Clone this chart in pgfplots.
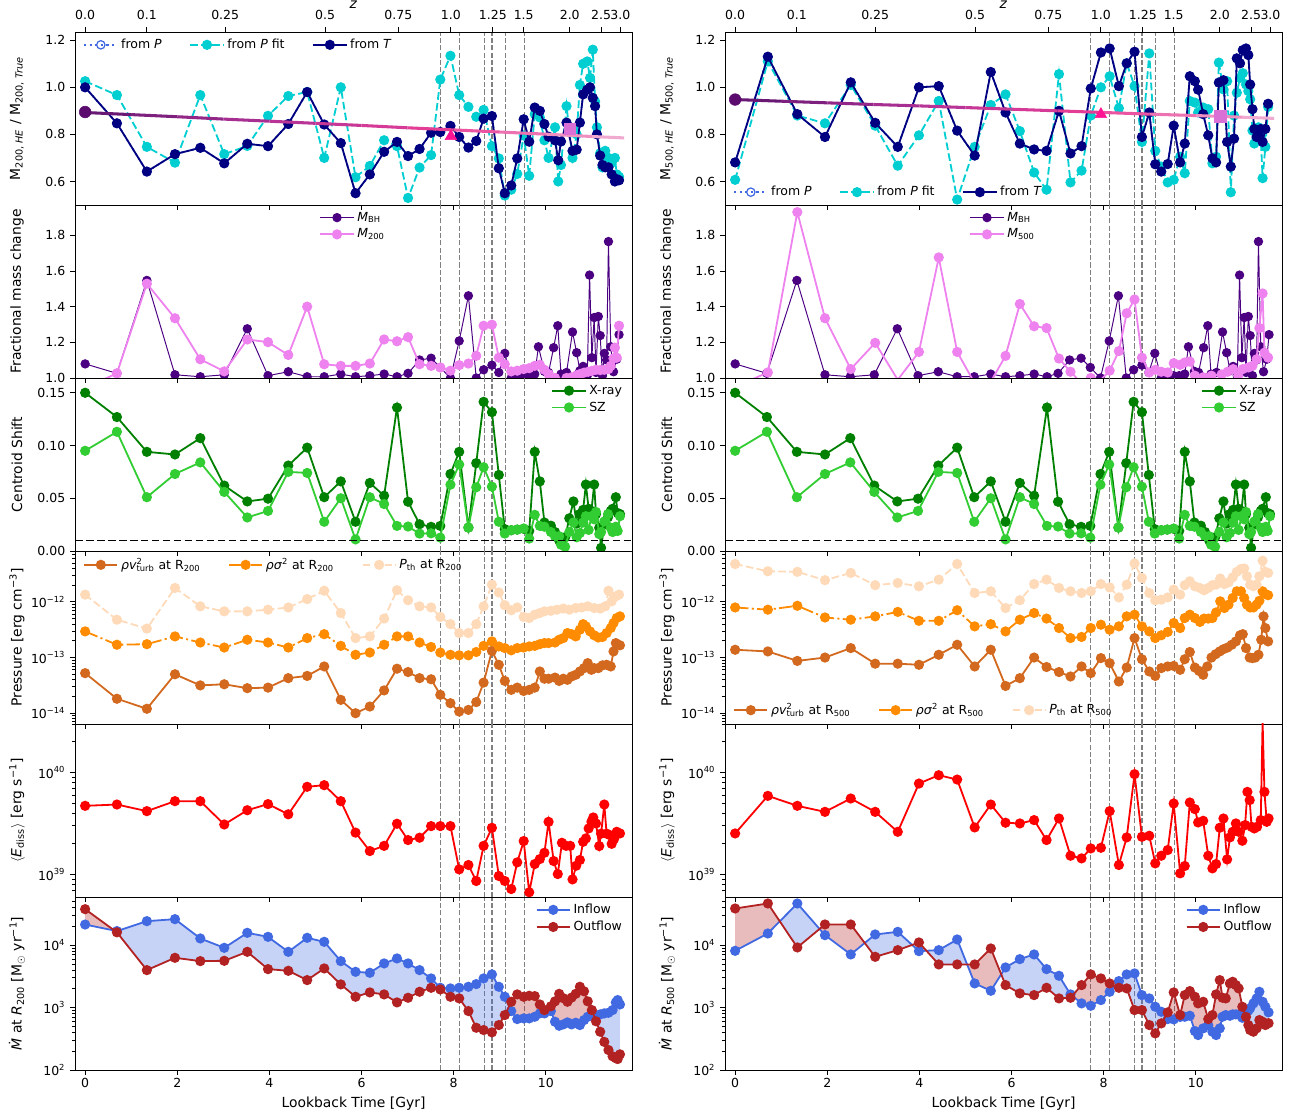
\documentclass[border=0pt]{standalone}
\usepackage{fontspec}
\setmainfont{DejaVu Sans}
\usepackage{pgfplots}
\usepackage{pgfplotstable}
\pgfplotsset{compat=1.18}
\usepgfplotslibrary{fillbetween}

\definecolor{navyc}{HTML}{000080}
\definecolor{dturq}{HTML}{00CED1}
\definecolor{rblue}{HTML}{4169E1}
\definecolor{indig}{HTML}{4B0082}
\definecolor{violetc}{HTML}{EE82EE}
\definecolor{greenc}{HTML}{008000}
\definecolor{limec}{HTML}{32CD32}
\definecolor{choc}{HTML}{D2691E}
\definecolor{dorange}{HTML}{FF8C00}
\definecolor{peach}{HTML}{FFDAB9}
\definecolor{fireb}{HTML}{B22222}
\definecolor{dpink}{HTML}{FF1493}
\definecolor{orchidc}{HTML}{DA70D6}
\definecolor{dpurple}{HTML}{5B0A6E}

\newcommand\fs{\fontsize{9}{11}\selectfont}
\newcommand\supsub[2]{\rlap{\textsuperscript{#1}}\textsubscript{#2}}

\pgfplotstableread{
t v
0 1.0
0.69 0.847
1.34 0.642
1.95 0.716
2.50 0.743
3.02 0.677
3.52 0.76
3.97 0.75
4.41 0.844
4.82 0.98
5.19 0.842
5.55 0.763
5.87 0.55
6.18 0.63
6.49 0.726
6.77 0.768
7.01 0.708
7.26 0.738
7.51 0.807
7.71 0.81
7.93 0.836
8.12 0.789
8.32 0.744
8.49 0.772
8.65 0.867
8.83 0.878
8.98 0.656
9.11 0.55
9.25 0.583
9.38 0.698
9.52 0.864
9.64 0.769
9.76 0.914
9.87 0.90
9.97 0.844
10.06 0.79
10.20 0.775
10.27 0.69
10.33 0.77
10.45 0.85
10.58 0.73
10.67 0.735
10.74 0.85
10.81 0.97
10.90 0.99
10.96 1.0
11.02 0.955
11.07 0.92
11.11 0.80
11.18 0.71
11.23 0.67
11.29 0.66
11.36 0.66
11.43 0.63
11.50 0.60
11.54 0.61
11.59 0.605
}\tTL

\pgfplotstableread{
t v
0 0.681
0.71 1.13
1.35 0.886
1.95 0.789
2.51 1.021
3.04 0.849
3.53 0.747
3.99 1.0
4.42 1.005
4.82 0.816
5.20 0.71
5.55 1.065
5.87 0.893
6.18 0.761
6.49 0.736
6.76 0.73
7.03 0.90
7.28 0.719
7.52 0.75
7.72 0.995
7.94 1.148
8.13 1.165
8.33 1.005
8.50 1.102
8.67 1.151
8.83 0.789
8.99 0.893
9.12 0.673
9.25 0.642
9.39 0.674
9.52 0.837
9.66 0.681
9.76 0.761
9.87 1.047
9.98 1.026
10.05 0.99
10.16 0.886
10.27 0.796
10.36 0.698
10.44 0.681
10.50 1.02
10.60 1.03
10.68 0.768
10.76 0.663
10.83 0.782
10.89 1.123
10.96 1.102
11.02 1.158
11.09 1.165
11.14 1.137
11.18 1.012
11.23 0.907
11.27 0.823
11.32 0.789
11.36 0.80
11.41 0.823
11.45 0.768
11.51 0.823
11.57 0.93
}\tTR

\pgfplotstableread{
t v
0 1.079
0.69 1.026
1.34 1.547
1.95 1.018
2.50 1.007
3.02 1.018
3.52 1.276
3.97 1.013
4.41 1.035
4.82 1.007
5.19 1.007
5.55 1.022
5.87 1.007
6.18 1.013
6.49 1.022
6.77 1.007
7.01 1.026
7.26 1.101
7.51 1.111
7.71 1.059
7.93 1.0
8.12 1.208
8.32 1.461
8.49 1.0
8.65 1.046
8.83 1.072
8.98 1.031
9.11 1.138
9.25 1.0
9.38 1.007
9.52 1.013
9.64 1.013
9.76 1.022
9.84 1.175
9.97 1.037
10.06 1.031
10.17 1.17
10.26 1.293
10.33 1.022
10.45 1.031
10.58 1.258
10.67 1.142
10.74 1.041
10.81 1.065
10.90 1.013
10.95 1.577
11.0 1.114
11.05 1.339
11.09 1.031
11.14 1.345
11.18 1.238
11.23 1.013
11.27 1.138
11.32 1.101
11.36 1.765
11.41 1.175
11.47 1.035
11.54 1.105
11.59 1.243
}\tBH

\pgfplotstableread{
t x s
0 0.150 0.095
0.69 0.127 0.113
1.34 0.094 0.051
1.95 0.0915 0.073
2.50 0.107 0.084
3.02 0.062 0.056
3.52 0.047 0.0318
3.97 0.0496 0.038
4.41 0.081 0.075
4.82 0.098 0.074
5.19 0.051 0.0277
5.55 0.066 0.050
5.87 0.0277 0.011
6.18 0.0645 0.051
6.49 0.0524 0.0445
6.77 0.136 0.0238
7.01 0.0467 0.0232
7.26 0.0254 0.0165
7.51 0.0229 0.0168
7.71 0.0238 0.0127
7.93 0.073 0.0629
8.12 0.094 0.082
8.32 0.0222 0.0222
8.49 0.0833 0.0604
8.65 0.1414 0.0794
8.83 0.1316 0.061
8.98 0.0721 0.0277
9.11 0.0207 0.0165
9.25 0.0197 0.0197
9.38 0.0203 0.0203
9.52 0.021 0.0213
9.64 0.019 0.0118
9.76 0.094 0.0343
9.87 0.066 0.0238
9.97 0.027 0.023
10.11 0.024 0.018
10.20 0.018 0.014
10.29 0.010 0.014
10.33 0.008 0.006
10.42 0.013 0.004
10.51 0.031 0.018
10.60 0.047 0.027
10.67 0.026 0.013
10.74 0.035 0.017
10.81 0.039 0.027
10.87 0.063 0.033
10.93 0.040 0.020
10.99 0.038 0.033
11.05 0.063 0.030
11.09 0.035 0.037
11.16 0.022 0.016
11.20 0.003 0.018
11.27 0.025 0.028
11.35 0.032 0.035
11.41 0.038 0.022
11.45 0.040 0.018
11.52 0.051 0.023
11.56 0.036 0.019
11.61 0.035 0.033
}\tCS

% log10 of inflow / outflow rates
\pgfplotstableread{
t in out
0 4.33 4.576
0.69 4.225 4.205
1.34 4.384 3.60
1.95 4.416 3.797
2.50 4.107 3.744
3.02 3.957 3.749
3.52 4.197 3.893
3.97 4.133 3.616
4.41 3.893 3.589
4.82 4.117 3.44
5.19 4.053 3.627
5.55 3.744 3.371
5.87 3.573 3.173
6.18 3.557 3.243
6.49 3.707 3.211
6.77 3.787 3.083
7.01 3.707 3.157
7.26 3.60 3.253
7.51 3.467 3.317
7.71 3.317 3.29
7.93 3.307 3.173
8.12 3.317 3.147
8.32 3.333 2.944
8.49 3.376 2.677
8.65 3.467 2.64
8.83 3.531 2.603
8.98 3.333 2.72
9.11 3.173 2.88
9.25 2.944 3.093
9.38 2.816 3.211
9.52 2.827 3.173
9.64 2.827 3.189
9.76 2.853 3.184
9.87 2.907 3.05
9.97 2.907 2.96
10.11 2.944 3.02
10.20 2.773 3.10
10.29 2.709 3.22
10.38 2.731 3.15
10.47 2.763 3.093
10.56 2.731 3.16
10.65 2.757 3.22
10.74 2.72 3.333
10.83 2.80 3.26
10.91 2.853 3.10
11.00 2.88 2.96
11.09 2.864 2.78
11.18 2.891 2.613
11.27 2.907 2.45
11.36 2.917 2.32
11.45 2.96 2.22
11.52 3.083 2.19
11.56 3.12 2.176
11.61 3.05 2.251
}\tML

\pgfplotstableread{
t in out
0 3.909 4.587
0.71 4.187 4.667
1.35 4.667 3.963
1.95 4.16 4.331
2.51 3.851 4.331
3.04 4.171 3.813
3.53 4.213 3.92
3.99 3.904 4.043
4.42 3.92 3.691
4.82 4.091 3.691
5.20 3.387 3.691
5.55 3.269 3.947
5.87 3.643 3.36
6.18 3.776 3.227
6.49 3.851 3.20
6.76 3.616 3.317
7.03 3.509 3.147
7.28 3.211 3.157
7.52 3.067 3.36
7.72 3.029 3.531
7.94 3.12 3.467
8.13 3.253 3.387
8.33 3.424 3.317
8.50 3.531 3.307
8.67 3.547 2.96
8.83 3.20 2.96
8.99 3.147 2.72
9.12 3.013 2.587
9.25 2.933 2.747
9.39 2.816 2.923
9.52 2.811 3.243
9.66 2.85 2.88
9.76 2.853 3.20
9.87 2.869 3.264
9.98 2.624 3.173
10.05 2.56 3.067
10.16 2.667 3.093
10.27 2.72 2.816
10.36 2.613 2.88
10.44 2.56 3.211
10.52 2.667 3.44
10.58 2.853 3.157
10.65 2.88 3.147
10.74 2.869 3.387
10.80 2.891 3.413
10.87 2.891 3.36
10.93 2.89 3.307
11.01 2.837 3.013
11.09 2.93 2.85
11.14 2.95 2.72
11.18 2.989 2.64
11.25 3.067 2.613
11.32 3.147 2.667
11.38 3.253 2.80
11.45 3.093 2.773
11.51 3.013 2.72
11.58 2.923 2.75
}\tMR

\pgfplotsset{
  panel/.style={
    scale only axis, width=401pt, height=124.56pt,
    xmin=-0.22, xmax=11.87,
    xtick={0,2,4,6,8,10}, xticklabels={},
    tick align=outside, xtick pos=bottom, ytick pos=left,
    major tick length=3.5pt, minor tick length=2pt,
    tick style={black, line width=0.6pt},
    axis line style={line width=0.6pt},
    tick label style={font=\fs},
    xticklabel style={yshift=1pt},
    label style={font=\fs},
    every axis y label/.style={at={(rel axis cs:-0.1042,0.5)}, rotate=90, anchor=center},
    every axis x label/.style={at={(rel axis cs:0.5,-0.1967)}, anchor=center},
    legend style={font=\fs, draw=none, fill=none, inner sep=1pt,
      /tikz/every even column/.append style={column sep=18pt}},
    legend cell align=left,
    legend image code/.code={\draw[mark repeat=2,mark phase=2,##1] plot coordinates {(0cm,0cm) (0.42cm,0cm) (0.84cm,0cm)};},
    clip marker paths=true,
    /pgf/number format/assume math mode=true,
    extra x ticks={7.72,8.12,8.67,8.83,9.12,9.53},
    extra x tick labels={},
    extra x tick style={grid=major, major tick length=0pt,
      major grid style={gray, dash pattern=on 3.7pt off 1.6pt, line width=0.9pt}},
  },
  ztop/.style={
    scale only axis, width=401pt, height=124.56pt,
    xmin=-0.22, xmax=11.87, ymin=0, ymax=1,
    axis x line*=top, axis y line=none,
    tick align=outside, major tick length=3.5pt,
    tick style={black, line width=0.6pt},
    axis line style={line width=0.6pt},
    tick label style={font=\fs}, label style={font=\fs},
    xticklabel style={yshift=1.5pt},
    every axis x label/.style={at={(rel axis cs:0.5,1.16)}, anchor=center},
    xtick={0,1.34,3.04,5.21,6.8,7.94,8.85,9.52,10.52,11.2,11.62},
    xticklabels={0.0,0.1,0.25,0.5,0.75,1.0,1.25,1.5,2.0,2.5,3.0},
    xlabel={\textit{z}},
  },
  ln/.style={line width=1.3pt, mark=*, mark size=3pt, mark options={solid}},
  onedig/.style={yticklabel style={/pgf/number format/.cd, fixed, fixed zerofill, precision=1}},
}

\begin{document}
\begin{tikzpicture}

%================ ROW 1 LEFT
\begin{axis}[panel, at={(54pt,-23.04pt)}, anchor=north west,
  ymin=0.5, ymax=1.235, ytick={0.6,0.8,1.0,1.2}, onedig,
  ylabel={M\textsubscript{200, \textit{HE}} / M\textsubscript{200, \textit{True}}},
  legend columns=3, legend style={at={(0.012,0.985)}, anchor=north west}]
\addplot[rblue, ln, dash pattern=on 1.5pt off 2.5pt, mark=o, mark options={solid, line width=0.9pt}] table {\tTL};
\addlegendentry{from \textit{P}}
\addplot[dturq, ln, dash pattern=on 5.5pt off 2.4pt] coordinates {
(0,1.026)(0.69,0.967)(1.34,0.747)(1.95,0.68)(2.50,0.967)(3.02,0.716)(3.52,0.751)(3.97,0.879)(4.41,0.963)(4.82,0.98)(5.19,0.70)(5.55,1.0)(5.87,0.618)(6.18,0.666)(6.49,0.775)(6.77,0.75)(7.01,0.53)(7.26,0.659)(7.51,0.712)(7.71,1.033)(7.93,1.134)(8.12,0.967)(8.32,0.917)(8.49,0.875)(8.65,0.904)(8.83,0.75)(8.98,0.698)(9.11,0.54)(9.25,0.565)(9.38,0.632)(9.52,0.795)(9.64,0.624)(9.76,0.886)(9.87,0.872)(9.97,0.775)(10.06,0.70)(10.20,0.83)(10.27,0.60)(10.33,0.67)(10.45,0.92)(10.58,0.70)(10.67,0.80)(10.74,1.01)(10.81,1.10)(10.90,1.11)(10.96,1.04)(11.02,1.16)(11.07,0.94)(11.11,0.83)(11.18,0.72)(11.23,0.66)(11.29,0.73)(11.36,0.70)(11.43,0.68)(11.50,0.70)(11.54,0.63)(11.59,0.62)};
\addlegendentry{from \textit{P} fit}
\addplot[navyc, ln] table {\tTL};
\addlegendentry{from \textit{T}}
\addplot[mesh, point meta=x, point meta min=0, point meta max=11.7,
  colormap={fitmap}{rgb255=(95,20,110) rgb255=(175,50,150) rgb255=(232,62,150) rgb255=(242,180,212)},
  line width=2.2pt, forget plot] coordinates {
(0,0.893)(1,0.884)(2,0.875)(3,0.865)(4,0.856)(5,0.847)(6,0.838)(7,0.828)(8,0.819)(9,0.810)(10,0.801)(11,0.791)(11.7,0.785)};
\addplot[only marks, mark=*, mark size=4.2pt, dpurple, forget plot] coordinates {(0,0.895)};
\addplot[only marks, mark=triangle*, mark size=4.8pt, dpink, forget plot] coordinates {(7.94,0.792)};
\addplot[only marks, mark=square*, mark size=4pt, orchidc, forget plot] coordinates {(10.53,0.822)};
\end{axis}
\begin{axis}[ztop, at={(54pt,-23.04pt)}, anchor=north west]
\addplot[draw=none] coordinates {(0,0)};
\end{axis}

%================ ROW 1 RIGHT
\begin{axis}[panel, at={(522pt,-23.04pt)}, anchor=north west,
  ymin=0.5, ymax=1.235, ytick={0.6,0.8,1.0,1.2}, onedig,
  ylabel={M\textsubscript{500, \textit{HE}} / M\textsubscript{500, \textit{True}}},
  legend columns=3, legend style={at={(0.012,0.015)}, anchor=south west}]
\addplot[rblue, ln, dash pattern=on 1.5pt off 2.5pt, mark=o, mark options={solid, line width=0.9pt}] table {\tTR};
\addlegendentry{from \textit{P}}
\addplot[dturq, ln, dash pattern=on 5.5pt off 2.4pt] coordinates {
(0,0.607)(0.71,1.11)(1.35,0.88)(1.95,0.847)(2.51,1.01)(3.04,0.837)(3.53,0.667)(3.99,0.796)(4.42,0.942)(4.82,0.523)(5.20,0.747)(5.55,0.925)(5.87,0.97)(6.18,0.814)(6.49,0.638)(6.76,0.565)(7.03,1.056)(7.28,0.596)(7.52,0.646)(7.72,0.88)(7.94,1.0)(8.13,1.047)(8.33,0.911)(8.50,1.102)(8.67,1.005)(8.83,0.768)(8.99,1.144)(9.12,0.73)(9.25,0.663)(9.39,0.596)(9.52,0.607)(9.66,0.705)(9.76,0.635)(9.87,0.942)(9.98,0.935)(10.05,0.893)(10.16,0.914)(10.27,0.907)(10.36,0.677)(10.44,0.705)(10.50,1.105)(10.60,0.991)(10.68,1.026)(10.76,0.554)(10.83,0.88)(10.89,0.977)(10.96,1.04)(11.02,1.06)(11.09,1.012)(11.14,0.984)(11.18,0.949)(11.23,0.816)(11.27,0.761)(11.32,0.782)(11.36,0.83)(11.41,0.789)(11.45,0.614)(11.51,0.747)(11.57,0.917)};
\addlegendentry{from \textit{P} fit}
\addplot[navyc, ln] table {\tTR};
\addlegendentry{from \textit{T}}
\addplot[mesh, point meta=x, point meta min=0, point meta max=11.7,
  colormap={fitmap}{rgb255=(95,20,110) rgb255=(175,50,150) rgb255=(232,62,150) rgb255=(242,180,212)},
  line width=2.2pt, forget plot] coordinates {
(0,0.948)(1,0.941)(2,0.934)(3,0.927)(4,0.921)(5,0.914)(6,0.907)(7,0.900)(8,0.893)(9,0.886)(10,0.880)(11,0.873)(11.7,0.868)};
\addplot[only marks, mark=*, mark size=4.2pt, dpurple, forget plot] coordinates {(0,0.948)};
\addplot[only marks, mark=triangle*, mark size=4.8pt, dpink, forget plot] coordinates {(7.94,0.885)};
\addplot[only marks, mark=square*, mark size=4pt, orchidc, forget plot] coordinates {(10.53,0.877)};
\end{axis}
\begin{axis}[ztop, at={(522pt,-23.04pt)}, anchor=north west]
\addplot[draw=none] coordinates {(0,0)};
\end{axis}

%================ ROW 2 LEFT
\begin{axis}[panel, at={(54pt,-147.6pt)}, anchor=north west,
  ymin=1.0, ymax=1.97, ytick={1.0,1.2,1.4,1.6,1.8}, onedig,
  ylabel={Fractional mass change},
  legend style={at={(0.5,0.985)}, anchor=north}]
\addplot[indig, line width=0.7pt, mark=*, mark size=3pt] table {\tBH};
\addlegendentry{\textit{M}\textsubscript{BH}}
\addplot[violetc, ln] coordinates {
(0,0.944)(0.69,1.026)(1.34,1.529)(1.95,1.335)(2.50,1.105)(3.02,1.037)(3.52,1.216)(3.97,1.201)(4.41,1.129)(4.82,1.40)(5.19,1.077)(5.55,1.068)(5.87,1.068)(6.18,1.081)(6.49,1.216)(6.77,1.206)(7.01,1.229)(7.26,1.077)(7.51,1.068)(7.71,1.059)(7.93,1.041)(8.12,1.072)(8.32,1.081)(8.49,1.124)(8.65,1.293)(8.83,1.299)(8.98,1.114)(9.11,1.077)(9.25,1.037)(9.38,1.041)(9.52,1.05)(9.64,1.055)(9.76,1.068)(9.87,1.074)(9.97,1.046)(10.06,1.022)(10.20,1.0)(10.33,0.995)(10.45,1.0)(10.56,1.004)(10.67,1.015)(10.74,1.022)(10.83,1.03)(10.92,1.035)(11.0,1.04)(11.09,1.046)(11.18,1.044)(11.27,1.046)(11.36,1.05)(11.41,1.068)(11.47,1.11)(11.50,1.17)(11.54,1.114)(11.59,1.293)};
\addlegendentry{\textit{M}\textsubscript{200}}
\end{axis}

%================ ROW 2 RIGHT
\begin{axis}[panel, at={(522pt,-147.6pt)}, anchor=north west,
  ymin=1.0, ymax=1.97, ytick={1.0,1.2,1.4,1.6,1.8}, onedig,
  ylabel={Fractional mass change},
  legend style={at={(0.5,0.985)}, anchor=north}]
\addplot[indig, line width=0.7pt, mark=*, mark size=3pt] table {\tBH};
\addlegendentry{\textit{M}\textsubscript{BH}}
\addplot[violetc, ln] coordinates {
(0,0.95)(0.71,1.031)(1.35,1.93)(1.95,1.335)(2.51,1.05)(3.04,1.197)(3.53,0.99)(3.99,1.146)(4.42,1.676)(4.82,1.146)(5.20,0.97)(5.55,0.98)(5.87,1.124)(6.18,1.415)(6.49,1.29)(6.76,1.28)(7.03,1.109)(7.28,1.035)(7.52,0.97)(7.72,1.0)(7.94,0.99)(8.13,1.041)(8.33,1.151)(8.50,1.363)(8.67,1.44)(8.83,1.114)(8.99,1.031)(9.12,1.046)(9.25,1.035)(9.39,1.031)(9.52,1.083)(9.66,1.074)(9.76,1.087)(9.87,1.092)(9.98,1.013)(10.16,1.004)(10.34,1.013)(10.56,1.02)(10.69,1.035)(10.81,1.05)(10.92,1.013)(11.02,1.05)(11.14,1.059)(11.23,1.068)(11.32,1.105)(11.38,1.28)(11.45,1.474)(11.49,1.142)(11.57,1.114)};
\addlegendentry{\textit{M}\textsubscript{500}}
\end{axis}

%================ ROW 3 LEFT & RIGHT
\begin{axis}[panel, at={(54pt,-272.16pt)}, anchor=north west,
  ymin=0, ymax=0.164, ytick={0,0.05,0.10,0.15},
  yticklabel style={/pgf/number format/.cd, fixed, fixed zerofill, precision=2},
  ylabel={Centroid Shift},
  legend style={at={(0.99,0.985)}, anchor=north east}]
\addplot[greenc, ln] table[x=t, y=x] {\tCS};
\addlegendentry{X-ray}
\addplot[limec, ln] table[x=t, y=s] {\tCS};
\addlegendentry{SZ}
\addplot[black, line width=1.3pt, dash pattern=on 5.5pt off 2.4pt, forget plot] coordinates {(-0.22,0.01)(11.87,0.01)};
\end{axis}
\begin{axis}[panel, at={(522pt,-272.16pt)}, anchor=north west,
  ymin=0, ymax=0.164, ytick={0,0.05,0.10,0.15},
  yticklabel style={/pgf/number format/.cd, fixed, fixed zerofill, precision=2},
  ylabel={Centroid Shift},
  legend style={at={(0.99,0.985)}, anchor=north east}]
\addplot[greenc, ln] table[x=t, y=x] {\tCS};
\addlegendentry{X-ray}
\addplot[limec, ln] table[x=t, y=s] {\tCS};
\addlegendentry{SZ}
\addplot[black, line width=1.3pt, dash pattern=on 5.5pt off 2.4pt, forget plot] coordinates {(-0.22,0.01)(11.87,0.01)};
\end{axis}

%================ ROW 4 LEFT
\begin{axis}[panel, at={(54pt,-396.72pt)}, anchor=north west, ymode=log,
  ymin=6.4e-15, ymax=8.2e-12, ytick={1e-14,1e-13,1e-12},
  yticklabels={10\textsuperscript{−14},10\textsuperscript{−13},10\textsuperscript{−12}},
  minor ytick={7e-15,8e-15,9e-15,2e-14,3e-14,4e-14,5e-14,6e-14,7e-14,8e-14,9e-14,2e-13,3e-13,4e-13,5e-13,6e-13,7e-13,8e-13,9e-13,2e-12,3e-12,4e-12,5e-12,6e-12,7e-12,8e-12},
  ylabel={Pressure [erg cm\textsuperscript{−3}]},
  legend columns=3, legend style={at={(0.012,0.985)}, anchor=north west}]
\addplot[choc, ln] table[row sep=\\, x index=0, y expr=10^(\thisrowno{1})] {
0 -13.28\\ 0.69 -13.74\\ 1.34 -13.92\\ 1.95 -13.30\\ 2.50 -13.50\\ 3.02 -13.48\\ 3.52 -13.55\\ 3.97 -13.54\\ 4.41 -13.37\\ 4.82 -13.33\\ 5.19 -13.16\\ 5.55 -13.76\\ 5.87 -14.0\\ 6.18 -13.88\\ 6.49 -13.59\\ 6.77 -13.20\\ 7.01 -13.26\\ 7.26 -13.37\\ 7.51 -13.39\\ 7.71 -13.67\\ 7.93 -13.82\\ 8.12 -13.97\\ 8.32 -13.94\\ 8.49 -13.80\\ 8.65 -13.45\\ 8.83 -12.88\\ 8.98 -13.13\\ 9.11 -13.42\\ 9.25 -13.58\\ 9.38 -13.54\\ 9.52 -13.60\\ 9.64 -13.58\\ 9.76 -13.54\\ 9.87 -13.25\\ 9.97 -13.38\\ 10.06 -13.38\\ 10.20 -13.36\\ 10.29 -13.42\\ 10.38 -13.38\\ 10.47 -13.40\\ 10.56 -13.34\\ 10.65 -13.31\\ 10.74 -13.25\\ 10.83 -13.19\\ 10.91 -13.10\\ 10.99 -13.22\\ 11.05 -13.19\\ 11.14 -13.19\\ 11.23 -13.14\\ 11.32 -13.13\\ 11.41 -13.16\\ 11.47 -12.89\\ 11.52 -12.74\\ 11.56 -12.77\\ 11.61 -12.78\\
};
\addlegendentry{\textit{ρv}\supsub{2}{turb} at R\textsubscript{200}}
\addplot[dorange, ln, dash pattern=on 9.6pt off 2.4pt on 1.5pt off 2.4pt] table[row sep=\\, x index=0, y expr=10^(\thisrowno{1})] {
0 -12.53\\ 0.69 -12.77\\ 1.34 -12.76\\ 1.95 -12.62\\ 2.50 -12.73\\ 3.02 -12.82\\ 3.52 -12.68\\ 3.97 -12.73\\ 4.41 -12.82\\ 4.82 -12.65\\ 5.19 -12.58\\ 5.55 -12.79\\ 5.87 -12.95\\ 6.18 -12.91\\ 6.49 -12.77\\ 6.77 -12.62\\ 7.01 -12.62\\ 7.26 -12.73\\ 7.51 -12.81\\ 7.71 -12.91\\ 7.93 -12.95\\ 8.12 -12.96\\ 8.32 -12.96\\ 8.49 -12.90\\ 8.65 -12.79\\ 8.83 -12.71\\ 8.98 -12.80\\ 9.11 -12.83\\ 9.25 -12.87\\ 9.38 -12.83\\ 9.52 -12.82\\ 9.64 -12.80\\ 9.76 -12.79\\ 9.87 -12.76\\ 9.97 -12.74\\ 10.06 -12.74\\ 10.20 -12.73\\ 10.29 -12.68\\ 10.38 -12.65\\ 10.47 -12.56\\ 10.56 -12.58\\ 10.65 -12.62\\ 10.74 -12.50\\ 10.81 -12.40\\ 10.87 -12.44\\ 10.96 -12.53\\ 11.05 -12.60\\ 11.14 -12.64\\ 11.23 -12.63\\ 11.32 -12.56\\ 11.41 -12.47\\ 11.47 -12.38\\ 11.54 -12.29\\ 11.61 -12.26\\
};
\addlegendentry{\textit{ρσ}\textsuperscript{2} at R\textsubscript{200}}
\addplot[peach, ln, dash pattern=on 5.5pt off 2.4pt] table[row sep=\\, x index=0, y expr=10^(\thisrowno{1})] {
0 -11.87\\ 0.69 -12.32\\ 1.34 -12.48\\ 1.95 -11.75\\ 2.50 -12.08\\ 3.02 -12.17\\ 3.52 -12.17\\ 3.97 -12.14\\ 4.41 -12.10\\ 4.82 -11.95\\ 5.19 -11.80\\ 5.55 -12.20\\ 5.87 -12.65\\ 6.18 -12.62\\ 6.49 -12.30\\ 6.77 -11.79\\ 7.01 -11.97\\ 7.26 -12.08\\ 7.51 -12.10\\ 7.71 -12.27\\ 7.93 -12.40\\ 8.12 -12.56\\ 8.32 -12.56\\ 8.49 -12.40\\ 8.65 -12.08\\ 8.83 -11.69\\ 8.98 -11.83\\ 9.11 -12.06\\ 9.25 -12.15\\ 9.38 -12.10\\ 9.52 -12.27\\ 9.64 -12.29\\ 9.76 -12.23\\ 9.87 -12.20\\ 9.97 -12.17\\ 10.11 -12.16\\ 10.24 -12.14\\ 10.38 -12.12\\ 10.51 -12.14\\ 10.65 -12.11\\ 10.78 -12.10\\ 10.91 -12.08\\ 11.05 -12.11\\ 11.18 -12.12\\ 11.29 -12.08\\ 11.36 -11.80\\ 11.43 -11.99\\ 11.52 -11.90\\ 11.59 -11.87\\
};
\addlegendentry{\textit{P}\textsubscript{th} at R\textsubscript{200}}
\end{axis}

%================ ROW 4 RIGHT
\begin{axis}[panel, at={(522pt,-396.72pt)}, anchor=north west, ymode=log,
  ymin=6.4e-15, ymax=8.2e-12, ytick={1e-14,1e-13,1e-12},
  yticklabels={10\textsuperscript{−14},10\textsuperscript{−13},10\textsuperscript{−12}},
  minor ytick={7e-15,8e-15,9e-15,2e-14,3e-14,4e-14,5e-14,6e-14,7e-14,8e-14,9e-14,2e-13,3e-13,4e-13,5e-13,6e-13,7e-13,8e-13,9e-13,2e-12,3e-12,4e-12,5e-12,6e-12,7e-12,8e-12},
  ylabel={Pressure [erg cm\textsuperscript{−3}]},
  legend columns=3, legend style={at={(0.012,0.015)}, anchor=south west}]
\addplot[choc, ln] table[row sep=\\, x index=0, y expr=10^(\thisrowno{1})] {
0 -12.86\\ 0.71 -12.89\\ 1.35 -13.06\\ 1.95 -13.00\\ 2.51 -12.83\\ 3.04 -13.11\\ 3.53 -13.11\\ 3.99 -13.13\\ 4.42 -12.95\\ 4.82 -12.77\\ 5.20 -13.16\\ 5.55 -12.86\\ 5.87 -13.51\\ 6.18 -13.37\\ 6.49 -13.00\\ 6.76 -13.17\\ 7.03 -13.26\\ 7.28 -13.34\\ 7.52 -13.16\\ 7.72 -13.28\\ 7.94 -13.01\\ 8.13 -13.10\\ 8.33 -13.43\\ 8.50 -13.18\\ 8.67 -12.65\\ 8.83 -13.03\\ 8.99 -13.25\\ 9.12 -13.33\\ 9.25 -13.19\\ 9.39 -13.16\\ 9.52 -13.15\\ 9.66 -13.22\\ 9.76 -13.03\\ 9.87 -12.90\\ 9.98 -13.18\\ 10.07 -13.24\\ 10.16 -13.31\\ 10.25 -13.16\\ 10.34 -13.00\\ 10.43 -12.94\\ 10.52 -12.89\\ 10.60 -12.85\\ 10.69 -12.82\\ 10.78 -12.77\\ 10.87 -12.71\\ 10.96 -12.60\\ 11.02 -12.58\\ 11.09 -12.83\\ 11.17 -13.00\\ 11.23 -13.01\\ 11.29 -13.00\\ 11.36 -12.95\\ 11.42 -12.68\\ 11.47 -12.26\\ 11.51 -12.47\\ 11.57 -12.71\\
};
\addlegendentry{\textit{ρv}\supsub{2}{turb} at R\textsubscript{500}}
\addplot[dorange, ln, dash pattern=on 9.6pt off 2.4pt on 1.5pt off 2.4pt] table[row sep=\\, x index=0, y expr=10^(\thisrowno{1})] {
0 -12.10\\ 0.71 -12.14\\ 1.35 -12.07\\ 1.95 -12.28\\ 2.51 -12.32\\ 3.04 -12.26\\ 3.53 -12.18\\ 3.99 -12.34\\ 4.42 -12.34\\ 4.82 -12.15\\ 5.20 -12.44\\ 5.55 -12.40\\ 5.87 -12.53\\ 6.18 -12.32\\ 6.49 -12.20\\ 6.76 -12.30\\ 7.03 -12.47\\ 7.28 -12.65\\ 7.52 -12.63\\ 7.72 -12.47\\ 7.94 -12.41\\ 8.13 -12.50\\ 8.33 -12.44\\ 8.50 -12.26\\ 8.67 -12.23\\ 8.83 -12.44\\ 8.99 -12.53\\ 9.12 -12.65\\ 9.25 -12.60\\ 9.39 -12.54\\ 9.52 -12.38\\ 9.66 -12.47\\ 9.76 -12.29\\ 9.87 -12.23\\ 9.98 -12.29\\ 10.09 -12.36\\ 10.18 -12.30\\ 10.27 -12.30\\ 10.36 -12.29\\ 10.44 -12.19\\ 10.53 -11.99\\ 10.62 -12.11\\ 10.71 -12.05\\ 10.80 -11.93\\ 10.89 -11.81\\ 10.98 -11.81\\ 11.05 -11.93\\ 11.11 -12.05\\ 11.18 -12.10\\ 11.25 -12.10\\ 11.32 -12.05\\ 11.38 -11.98\\ 11.45 -11.81\\ 11.51 -11.86\\ 11.57 -11.88\\
};
\addlegendentry{\textit{ρσ}\textsuperscript{2} at R\textsubscript{500}}
\addplot[peach, ln, dash pattern=on 5.5pt off 2.4pt] table[row sep=\\, x index=0, y expr=10^(\thisrowno{1})] {
0 -11.32\\ 0.71 -11.45\\ 1.35 -11.46\\ 1.95 -11.61\\ 2.51 -11.48\\ 3.04 -11.70\\ 3.53 -11.66\\ 3.99 -11.72\\ 4.42 -11.60\\ 4.82 -11.32\\ 5.20 -11.84\\ 5.55 -11.81\\ 5.87 -12.11\\ 6.18 -11.97\\ 6.49 -11.68\\ 6.76 -11.60\\ 7.03 -11.75\\ 7.28 -11.81\\ 7.52 -11.84\\ 7.72 -11.81\\ 7.94 -11.68\\ 8.13 -11.74\\ 8.33 -11.92\\ 8.50 -11.69\\ 8.67 -11.31\\ 8.83 -11.57\\ 8.99 -11.84\\ 9.12 -11.97\\ 9.25 -11.96\\ 9.39 -11.92\\ 9.52 -11.78\\ 9.66 -11.87\\ 9.76 -11.70\\ 9.87 -11.63\\ 9.98 -11.72\\ 10.09 -11.75\\ 10.18 -11.79\\ 10.27 -11.75\\ 10.36 -11.70\\ 10.44 -11.69\\ 10.53 -11.58\\ 10.62 -11.68\\ 10.71 -11.65\\ 10.80 -11.56\\ 10.89 -11.46\\ 10.98 -11.41\\ 11.05 -11.40\\ 11.11 -11.54\\ 11.18 -11.69\\ 11.25 -11.72\\ 11.32 -11.69\\ 11.38 -11.54\\ 11.45 -11.26\\ 11.51 -11.46\\ 11.57 -11.48\\
};
\addlegendentry{\textit{P}\textsubscript{th} at R\textsubscript{500}}
\end{axis}

%================ ROW 5 LEFT
\begin{axis}[panel, at={(54pt,-521.28pt)}, anchor=north west, ymode=log,
  ymin=6.0e38, ymax=3.0e40, ytick={1e39,1e40},
  yticklabels={10\textsuperscript{39},10\textsuperscript{40}},
  minor ytick={7e38,8e38,9e38,2e39,3e39,4e39,5e39,6e39,7e39,8e39,9e39,2e40,3e40},
  ylabel={$\langle$\textit{E}\textsubscript{diss}$\rangle$ [erg s\textsuperscript{−1}]}]
\addplot[red, ln] table[row sep=\\, x index=0, y expr=10^(\thisrowno{1})] {
0 39.673\\ 0.69 39.686\\ 1.34 39.621\\ 1.95 39.719\\ 2.50 39.719\\ 3.02 39.49\\ 3.52 39.63\\ 3.97 39.69\\ 4.41 39.59\\ 4.82 39.86\\ 5.19 39.876\\ 5.55 39.719\\ 5.87 39.41\\ 6.18 39.229\\ 6.49 39.28\\ 6.77 39.497\\ 7.01 39.337\\ 7.26 39.36\\ 7.51 39.474\\ 7.71 39.474\\ 7.93 39.474\\ 8.12 39.049\\ 8.32 39.092\\ 8.49 38.935\\ 8.65 39.28\\ 8.83 39.457\\ 8.98 38.984\\ 9.11 38.935\\ 9.25 38.856\\ 9.38 39.118\\ 9.52 39.327\\ 9.64 38.824\\ 9.76 39.101\\ 9.87 39.15\\ 9.97 39.212\\ 10.06 39.516\\ 10.17 39.131\\ 10.26 39.003\\ 10.35 39.31\\ 10.44 39.28\\ 10.53 39.28\\ 10.58 38.951\\ 10.66 39.085\\ 10.74 39.141\\ 10.81 39.32\\ 10.87 39.353\\ 10.93 39.451\\ 10.99 39.516\\ 11.03 39.559\\ 11.09 39.5\\ 11.16 39.278\\ 11.20 39.40\\ 11.27 39.686\\ 11.32 39.40\\ 11.39 39.386\\ 11.43 39.30\\ 11.48 39.346\\ 11.54 39.418\\ 11.61 39.402\\
};
\end{axis}

%================ ROW 5 RIGHT
\begin{axis}[panel, at={(522pt,-521.28pt)}, anchor=north west, ymode=log,
  ymin=6.0e38, ymax=3.0e40, ytick={1e39,1e40},
  yticklabels={10\textsuperscript{39},10\textsuperscript{40}},
  minor ytick={7e38,8e38,9e38,2e39,3e39,4e39,5e39,6e39,7e39,8e39,9e39,2e40,3e40},
  ylabel={$\langle$\textit{E}\textsubscript{diss}$\rangle$ [erg s\textsuperscript{−1}]}]
\addplot[red, ln] table[row sep=\\, x index=0, y expr=10^(\thisrowno{1})] {
0 39.402\\ 0.71 39.771\\ 1.35 39.673\\ 1.95 39.614\\ 2.51 39.745\\ 3.04 39.614\\ 3.53 39.418\\ 3.99 39.892\\ 4.42 39.974\\ 4.82 39.931\\ 5.20 39.461\\ 5.55 39.686\\ 5.87 39.507\\ 6.18 39.50\\ 6.49 39.533\\ 6.76 39.337\\ 7.03 39.549\\ 7.28 39.183\\ 7.52 39.157\\ 7.72 39.255\\ 7.94 39.261\\ 8.13 39.621\\ 8.33 39.092\\ 8.50 39.363\\ 8.67 39.984\\ 8.83 39.369\\ 8.99 39.379\\ 9.12 39.108\\ 9.25 39.183\\ 9.39 39.239\\ 9.52 39.696\\ 9.66 39.01\\ 9.76 39.082\\ 9.87 39.706\\ 9.98 39.641\\ 10.05 39.51\\ 10.16 39.526\\ 10.27 39.183\\ 10.36 39.059\\ 10.44 39.101\\ 10.52 39.458\\ 10.60 39.549\\ 10.68 39.147\\ 10.74 39.363\\ 10.80 39.418\\ 10.87 39.50\\ 10.93 39.418\\ 11.01 39.33\\ 11.07 39.484\\ 11.12 39.81\\ 11.17 39.729\\ 11.21 39.467\\ 11.27 39.451\\ 11.33 39.467\\ 11.41 39.533\\ 11.45 40.5\\ 11.49 39.81\\ 11.54 39.516\\ 11.58 39.549\\
};
\end{axis}

%================ ROW 6 LEFT
\begin{axis}[panel, at={(54pt,-645.84pt)}, anchor=north west, ymode=log,
  ymin=100, ymax=5.9e4, ytick={1e2,1e3,1e4},
  yticklabels={10\textsuperscript{2},10\textsuperscript{3},10\textsuperscript{4}},
  minor ytick={2e2,3e2,4e2,5e2,6e2,7e2,8e2,9e2,2e3,3e3,4e3,5e3,6e3,7e3,8e3,9e3,2e4,3e4,4e4,5e4},
  xticklabels={0,2,4,6,8,10}, xlabel={Lookback Time [Gyr]},
  ylabel={\textit{Ṁ} at \textit{R}\textsubscript{200} [M\textsubscript{$\odot$} yr\textsuperscript{−1}]},
  legend style={at={(0.99,0.985)}, anchor=north east}]
\addplot[draw=none, mark=none, forget plot, name path=inL] table[x=t, y expr=10^(\thisrow{in})] {\tML};
\addplot[draw=none, mark=none, forget plot, name path=outL] table[x=t, y expr=10^(\thisrow{out})] {\tML};
\addplot[fill opacity=0.3, forget plot] fill between[of=inL and outL, split,
  every even segment/.style={fill=fireb}, every odd segment/.style={fill=rblue}];
\addplot[rblue, ln] table[x=t, y expr=10^(\thisrow{in})] {\tML};
\addlegendentry{Inflow}
\addplot[fireb, ln] table[x=t, y expr=10^(\thisrow{out})] {\tML};
\addlegendentry{Outflow}
\end{axis}

%================ ROW 6 RIGHT
\begin{axis}[panel, at={(522pt,-645.84pt)}, anchor=north west, ymode=log,
  ymin=100, ymax=5.9e4, ytick={1e2,1e3,1e4},
  yticklabels={10\textsuperscript{2},10\textsuperscript{3},10\textsuperscript{4}},
  minor ytick={2e2,3e2,4e2,5e2,6e2,7e2,8e2,9e2,2e3,3e3,4e3,5e3,6e3,7e3,8e3,9e3,2e4,3e4,4e4,5e4},
  xticklabels={0,2,4,6,8,10}, xlabel={Lookback Time [Gyr]},
  ylabel={\textit{Ṁ} at \textit{R}\textsubscript{500} [M\textsubscript{$\odot$} yr\textsuperscript{−1}]},
  legend style={at={(0.99,0.985)}, anchor=north east}]
\addplot[draw=none, mark=none, forget plot, name path=inR] table[x=t, y expr=10^(\thisrow{in})] {\tMR};
\addplot[draw=none, mark=none, forget plot, name path=outR] table[x=t, y expr=10^(\thisrow{out})] {\tMR};
\addplot[fill opacity=0.3, forget plot] fill between[of=inR and outR, split,
  every even segment/.style={fill=fireb}, every odd segment/.style={fill=rblue}];
\addplot[rblue, ln] table[x=t, y expr=10^(\thisrow{in})] {\tMR};
\addlegendentry{Inflow}
\addplot[fireb, ln] table[x=t, y expr=10^(\thisrow{out})] {\tMR};
\addlegendentry{Outflow}
\end{axis}

\pgfresetboundingbox
\path[use as bounding box] (0,0) rectangle (932.4pt,-802.8pt);
\end{tikzpicture}
\end{document}
